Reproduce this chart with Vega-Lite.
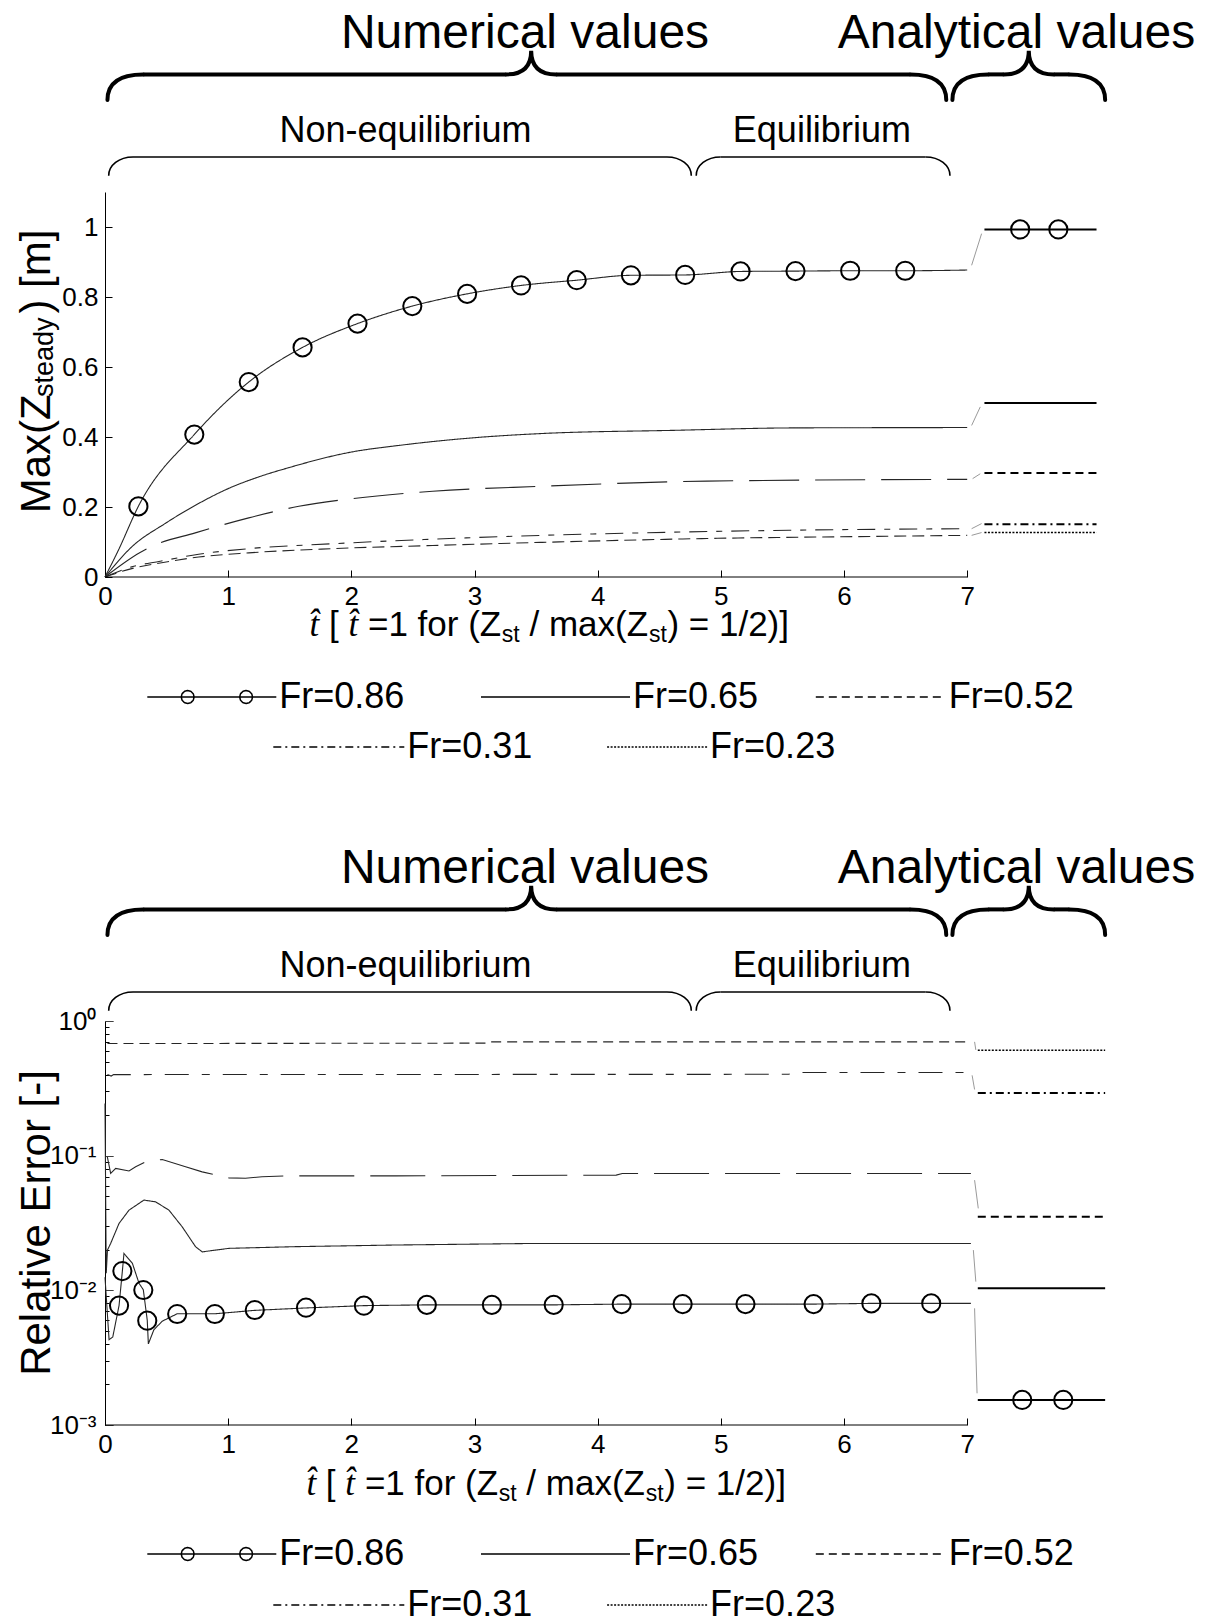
{
  "$schema": "https://vega.github.io/schema/vega-lite/v6.json",
  "background": "white",
  "padding": {"left": 15, "top": 0, "right": 0, "bottom": 0},
  "autosize": {"type": "pad"},
  "bounds": "flush",
  "spacing": 0,
  "config": {
    "view": {"stroke": null},
    "font": "Liberation Sans",
    "axis": {"labelFont": "Liberation Sans", "labelFontSize": 26, "labelColor": "black", "tickColor": "black", "domainColor": "black", "tickWidth": 1, "domainWidth": 1, "grid": false, "labelOverlap": false, "labelFlush": false},
    "text": {"font": "Liberation Sans", "color": "black"},
    "legend": {"orient": "none", "direction": "horizontal", "symbolType": "stroke", "symbolSize": 16900, "symbolStrokeWidth": 1.5, "symbolStrokeColor": "black", "symbolFillColor": "transparent", "labelFont": "Liberation Sans", "labelFontSize": 36, "labelColor": "black", "labelOffset": 2, "labelLimit": 400, "columnPadding": 73, "padding": 0}
  },
  "resolve": {"scale": {"x": "independent", "y": "independent", "strokeDash": "independent"}, "legend": {"strokeDash": "independent"}},
  "datasets": {
    "regions": [
      {"region": "Numerical values", "tier": "outer", "start": 0.02, "end": 6.83, "tip": 3.46, "labelAt": 3.41},
      {"region": "Analytical values", "tier": "outer", "start": 6.88, "end": 8.12, "tip": 7.5, "labelAt": 7.4},
      {"region": "Non-equilibrium", "tier": "inner", "start": 0.03, "end": 4.76, "labelAt": 2.44},
      {"region": "Equilibrium", "tier": "inner", "start": 4.8, "end": 6.86, "labelAt": 5.82}
    ],
    "maxz_numerical": [
      {"series": "Fr=0.86", "t": 0, "z": 0}, {"series": "Fr=0.86", "t": 0.108, "z": 0.076}, {"series": "Fr=0.86", "t": 0.271, "z": 0.202}, {"series": "Fr=0.86", "t": 0.725, "z": 0.407}, {"series": "Fr=0.86", "t": 1.167, "z": 0.557}, {"series": "Fr=0.86", "t": 1.604, "z": 0.656}, {"series": "Fr=0.86", "t": 2.05, "z": 0.724}, {"series": "Fr=0.86", "t": 2.495, "z": 0.774}, {"series": "Fr=0.86", "t": 2.94, "z": 0.809}, {"series": "Fr=0.86", "t": 3.378, "z": 0.833}, {"series": "Fr=0.86", "t": 3.83, "z": 0.848}, {"series": "Fr=0.86", "t": 4.27, "z": 0.862}, {"series": "Fr=0.86", "t": 4.71, "z": 0.863}, {"series": "Fr=0.86", "t": 5.16, "z": 0.873}, {"series": "Fr=0.86", "t": 5.606, "z": 0.874}, {"series": "Fr=0.86", "t": 6.05, "z": 0.875}, {"series": "Fr=0.86", "t": 6.497, "z": 0.875}, {"series": "Fr=0.86", "t": 7.0, "z": 0.877},
      {"series": "Fr=0.65", "t": 0, "z": 0}, {"series": "Fr=0.65", "t": 0.217, "z": 0.086}, {"series": "Fr=0.65", "t": 0.489, "z": 0.153}, {"series": "Fr=0.65", "t": 0.76, "z": 0.21}, {"series": "Fr=0.65", "t": 1.0, "z": 0.2525}, {"series": "Fr=0.65", "t": 1.248, "z": 0.286}, {"series": "Fr=0.65", "t": 1.493, "z": 0.3125}, {"series": "Fr=0.65", "t": 2.0, "z": 0.357}, {"series": "Fr=0.65", "t": 2.388, "z": 0.376}, {"series": "Fr=0.65", "t": 3.0, "z": 0.398}, {"series": "Fr=0.65", "t": 3.55, "z": 0.41}, {"series": "Fr=0.65", "t": 4.614, "z": 0.419}, {"series": "Fr=0.65", "t": 5.59, "z": 0.426}, {"series": "Fr=0.65", "t": 7.0, "z": 0.427},
      {"series": "Fr=0.52", "t": 0, "z": 0}, {"series": "Fr=0.52", "t": 0.285, "z": 0.07}, {"series": "Fr=0.52", "t": 0.39, "z": 0.089}, {"series": "Fr=0.52", "t": 0.733, "z": 0.126}, {"series": "Fr=0.52", "t": 1.167, "z": 0.169}, {"series": "Fr=0.52", "t": 1.574, "z": 0.202}, {"series": "Fr=0.52", "t": 2.008, "z": 0.224}, {"series": "Fr=0.52", "t": 2.66, "z": 0.245}, {"series": "Fr=0.52", "t": 3.53, "z": 0.259}, {"series": "Fr=0.52", "t": 4.886, "z": 0.274}, {"series": "Fr=0.52", "t": 7.0, "z": 0.279},
      {"series": "Fr=0.31", "t": 0, "z": 0}, {"series": "Fr=0.31", "t": 0.217, "z": 0.029}, {"series": "Fr=0.31", "t": 0.448, "z": 0.045}, {"series": "Fr=0.31", "t": 0.76, "z": 0.065}, {"series": "Fr=0.31", "t": 1.167, "z": 0.081}, {"series": "Fr=0.31", "t": 1.845, "z": 0.095}, {"series": "Fr=0.31", "t": 2.66, "z": 0.108}, {"series": "Fr=0.31", "t": 3.55, "z": 0.119}, {"series": "Fr=0.31", "t": 4.343, "z": 0.126}, {"series": "Fr=0.31", "t": 5.428, "z": 0.133}, {"series": "Fr=0.31", "t": 7.0, "z": 0.138},
      {"series": "Fr=0.23", "t": 0, "z": 0}, {"series": "Fr=0.23", "t": 0.217, "z": 0.024}, {"series": "Fr=0.23", "t": 0.448, "z": 0.04}, {"series": "Fr=0.23", "t": 0.76, "z": 0.057}, {"series": "Fr=0.23", "t": 1.167, "z": 0.069}, {"series": "Fr=0.23", "t": 1.845, "z": 0.081}, {"series": "Fr=0.23", "t": 2.66, "z": 0.09}, {"series": "Fr=0.23", "t": 3.55, "z": 0.099}, {"series": "Fr=0.23", "t": 4.886, "z": 0.11}, {"series": "Fr=0.23", "t": 6.243, "z": 0.116}, {"series": "Fr=0.23", "t": 7.0, "z": 0.119}
    ],
    "maxz_analytical": [
      {"series": "Fr=0.86", "t": 7.14, "z": 0.993}, {"series": "Fr=0.86", "t": 8.05, "z": 0.993},
      {"series": "Fr=0.65", "t": 7.14, "z": 0.497}, {"series": "Fr=0.65", "t": 8.05, "z": 0.497},
      {"series": "Fr=0.52", "t": 7.14, "z": 0.297}, {"series": "Fr=0.52", "t": 8.05, "z": 0.297},
      {"series": "Fr=0.31", "t": 7.14, "z": 0.1506}, {"series": "Fr=0.31", "t": 8.05, "z": 0.1506},
      {"series": "Fr=0.23", "t": 7.14, "z": 0.127}, {"series": "Fr=0.23", "t": 8.05, "z": 0.127}
    ],
    "maxz_link": [
      {"series": "Fr=0.86", "t": 7.036, "z": 0.8906}, {"series": "Fr=0.86", "t": 7.117, "z": 0.981},
      {"series": "Fr=0.65", "t": 7.036, "z": 0.433}, {"series": "Fr=0.65", "t": 7.106, "z": 0.486},
      {"series": "Fr=0.52", "t": 7.044, "z": 0.281}, {"series": "Fr=0.52", "t": 7.106, "z": 0.295},
      {"series": "Fr=0.31", "t": 7.036, "z": 0.138}, {"series": "Fr=0.31", "t": 7.117, "z": 0.1526},
      {"series": "Fr=0.23", "t": 7.036, "z": 0.119}, {"series": "Fr=0.23", "t": 7.117, "z": 0.127}
    ],
    "maxz_markers": [
      {"t": 0.271, "z": 0.202}, {"t": 0.725, "z": 0.407}, {"t": 1.167, "z": 0.557}, {"t": 1.604, "z": 0.656}, {"t": 2.05, "z": 0.724}, {"t": 2.495, "z": 0.774}, {"t": 2.94, "z": 0.809}, {"t": 3.378, "z": 0.833}, {"t": 3.83, "z": 0.848}, {"t": 4.27, "z": 0.862}, {"t": 4.71, "z": 0.863}, {"t": 5.16, "z": 0.873}, {"t": 5.606, "z": 0.874}, {"t": 6.05, "z": 0.875}, {"t": 6.497, "z": 0.875},
      {"t": 7.43, "z": 0.993}, {"t": 7.74, "z": 0.993}
    ],
    "err_numerical": [
      {"series": "Fr=0.86", "t": 0, "e": 0.0125}, {"series": "Fr=0.86", "t": 0.033, "e": 0.0043}, {"series": "Fr=0.86", "t": 0.063, "e": 0.0045}, {"series": "Fr=0.86", "t": 0.114, "e": 0.0077}, {"series": "Fr=0.86", "t": 0.141, "e": 0.0139}, {"series": "Fr=0.86", "t": 0.154, "e": 0.0188}, {"series": "Fr=0.86", "t": 0.222, "e": 0.0159}, {"series": "Fr=0.86", "t": 0.276, "e": 0.0113}, {"series": "Fr=0.86", "t": 0.311, "e": 0.0101}, {"series": "Fr=0.86", "t": 0.343, "e": 0.006}, {"series": "Fr=0.86", "t": 0.352, "e": 0.004}, {"series": "Fr=0.86", "t": 0.397, "e": 0.0051}, {"series": "Fr=0.86", "t": 0.465, "e": 0.0059}, {"series": "Fr=0.86", "t": 0.586, "e": 0.0067}, {"series": "Fr=0.86", "t": 0.892, "e": 0.0067}, {"series": "Fr=0.86", "t": 1.216, "e": 0.0071}, {"series": "Fr=0.86", "t": 1.632, "e": 0.0074}, {"series": "Fr=0.86", "t": 2.102, "e": 0.0077}, {"series": "Fr=0.86", "t": 2.613, "e": 0.0078}, {"series": "Fr=0.86", "t": 3.643, "e": 0.0078}, {"series": "Fr=0.86", "t": 4.195, "e": 0.0079}, {"series": "Fr=0.86", "t": 5.753, "e": 0.0079}, {"series": "Fr=0.86", "t": 6.222, "e": 0.008}, {"series": "Fr=0.86", "t": 7.03, "e": 0.008},
      {"series": "Fr=0.65", "t": 0, "e": 0.244}, {"series": "Fr=0.65", "t": 0.01, "e": 0.0134}, {"series": "Fr=0.65", "t": 0.02, "e": 0.0199}, {"series": "Fr=0.65", "t": 0.046, "e": 0.0223}, {"series": "Fr=0.65", "t": 0.114, "e": 0.0314}, {"series": "Fr=0.65", "t": 0.195, "e": 0.0394}, {"series": "Fr=0.65", "t": 0.316, "e": 0.0468}, {"series": "Fr=0.65", "t": 0.411, "e": 0.0454}, {"series": "Fr=0.65", "t": 0.519, "e": 0.0394}, {"series": "Fr=0.65", "t": 0.627, "e": 0.0296}, {"series": "Fr=0.65", "t": 0.735, "e": 0.0211}, {"series": "Fr=0.65", "t": 0.789, "e": 0.0193}, {"series": "Fr=0.65", "t": 1.005, "e": 0.0205}, {"series": "Fr=0.65", "t": 1.545, "e": 0.0211}, {"series": "Fr=0.65", "t": 2.356, "e": 0.0217}, {"series": "Fr=0.65", "t": 3.5, "e": 0.0223}, {"series": "Fr=0.65", "t": 7.03, "e": 0.0223},
      {"series": "Fr=0.52", "t": 0.019, "e": 0.098}, {"series": "Fr=0.52", "t": 0.046, "e": 0.0738}, {"series": "Fr=0.52", "t": 0.087, "e": 0.0804}, {"series": "Fr=0.52", "t": 0.195, "e": 0.077}, {"series": "Fr=0.52", "t": 0.249, "e": 0.0826}, {"series": "Fr=0.52", "t": 0.33, "e": 0.09}, {"series": "Fr=0.52", "t": 0.465, "e": 0.0937}, {"series": "Fr=0.52", "t": 0.654, "e": 0.0826}, {"series": "Fr=0.52", "t": 0.789, "e": 0.0758}, {"series": "Fr=0.52", "t": 1.005, "e": 0.0684}, {"series": "Fr=0.52", "t": 1.14, "e": 0.068}, {"series": "Fr=0.52", "t": 1.275, "e": 0.0697}, {"series": "Fr=0.52", "t": 1.464, "e": 0.0708}, {"series": "Fr=0.52", "t": 2.356, "e": 0.0708}, {"series": "Fr=0.52", "t": 4.15, "e": 0.0717}, {"series": "Fr=0.52", "t": 4.2, "e": 0.0738}, {"series": "Fr=0.52", "t": 7.03, "e": 0.0738},
      {"series": "Fr=0.31", "t": 0.02, "e": 0.4}, {"series": "Fr=0.31", "t": 0.05, "e": 0.39}, {"series": "Fr=0.31", "t": 0.07, "e": 0.4}, {"series": "Fr=0.31", "t": 5.55, "e": 0.402}, {"series": "Fr=0.31", "t": 5.6, "e": 0.415}, {"series": "Fr=0.31", "t": 7.03, "e": 0.415},
      {"series": "Fr=0.23", "t": 0.02, "e": 0.68}, {"series": "Fr=0.23", "t": 3.1, "e": 0.685}, {"series": "Fr=0.23", "t": 3.12, "e": 0.7}, {"series": "Fr=0.23", "t": 7.03, "e": 0.7}
    ],
    "err_analytical": [
      {"series": "Fr=0.86", "t": 7.086, "e": 0.001535}, {"series": "Fr=0.86", "t": 8.12, "e": 0.001535},
      {"series": "Fr=0.65", "t": 7.086, "e": 0.01035}, {"series": "Fr=0.65", "t": 8.12, "e": 0.01035},
      {"series": "Fr=0.52", "t": 7.086, "e": 0.0352}, {"series": "Fr=0.52", "t": 8.12, "e": 0.0352},
      {"series": "Fr=0.31", "t": 7.086, "e": 0.292}, {"series": "Fr=0.31", "t": 8.12, "e": 0.292},
      {"series": "Fr=0.23", "t": 7.086, "e": 0.606}, {"series": "Fr=0.23", "t": 8.12, "e": 0.606}
    ],
    "err_link": [
      {"series": "Fr=0.86", "t": 7.06, "e": 0.00735}, {"series": "Fr=0.86", "t": 7.08, "e": 0.00172},
      {"series": "Fr=0.65", "t": 7.05, "e": 0.0199}, {"series": "Fr=0.65", "t": 7.07, "e": 0.0116},
      {"series": "Fr=0.52", "t": 7.06, "e": 0.0658}, {"series": "Fr=0.52", "t": 7.09, "e": 0.0406},
      {"series": "Fr=0.31", "t": 7.04, "e": 0.395}, {"series": "Fr=0.31", "t": 7.06, "e": 0.31},
      {"series": "Fr=0.23", "t": 7.06, "e": 0.7}, {"series": "Fr=0.23", "t": 7.07, "e": 0.61}
    ],
    "err_markers": [
      {"t": 0.114, "e": 0.0077}, {"t": 0.141, "e": 0.0139}, {"t": 0.311, "e": 0.01005}, {"t": 0.343, "e": 0.00595}, {"t": 0.586, "e": 0.00667}, {"t": 0.892, "e": 0.00667}, {"t": 1.216, "e": 0.00714}, {"t": 1.632, "e": 0.00743}, {"t": 2.102, "e": 0.00769}, {"t": 2.613, "e": 0.0078}, {"t": 3.141, "e": 0.0078}, {"t": 3.643, "e": 0.0078}, {"t": 4.195, "e": 0.0079}, {"t": 4.69, "e": 0.0079}, {"t": 5.2, "e": 0.0079}, {"t": 5.753, "e": 0.0079}, {"t": 6.222, "e": 0.008}, {"t": 6.708, "e": 0.008},
      {"t": 7.447, "e": 0.001535}, {"t": 7.78, "e": 0.001535}
    ]
  },
  "vconcat": [
    {
      "width": 1010, "height": 192,
      "data": {"name": "regions"},
      "layer": [
        {"transform": [{"filter": "datum.tier === 'outer'"}],
         "mark": {"type": "text", "fontSize": 48, "align": "center", "baseline": "alphabetic"},
         "encoding": {"x": {"field": "labelAt", "type": "quantitative", "scale": {"domain": [0, 8.2], "nice": false}, "axis": null},
                      "y": {"datum": 0.7526, "type": "quantitative", "scale": {"domain": [0, 1], "nice": false}, "axis": null},
                      "text": {"field": "region"}}},
        {"transform": [{"filter": "datum.tier === 'inner'"}],
         "mark": {"type": "text", "fontSize": 36, "align": "center", "baseline": "alphabetic"},
         "encoding": {"x": {"field": "labelAt", "type": "quantitative", "axis": null}, "y": {"datum": 0.2625, "type": "quantitative", "axis": null}, "text": {"field": "region"}}},
        {"transform": [{"filter": "datum.tier === 'outer'"}],
         "mark": {"type": "rule", "strokeWidth": 4, "color": "black", "xOffset": 35.8, "x2Offset": -25},
         "encoding": {"x": {"field": "start", "type": "quantitative", "axis": null}, "x2": {"field": "tip"}, "y": {"datum": 0.6125, "type": "quantitative", "axis": null}}},
        {"transform": [{"filter": "datum.tier === 'outer'"}],
         "mark": {"type": "rule", "strokeWidth": 4, "color": "black", "xOffset": 25, "x2Offset": -35.8},
         "encoding": {"x": {"field": "tip", "type": "quantitative", "axis": null}, "x2": {"field": "end"}, "y": {"datum": 0.6125, "type": "quantitative", "axis": null}}},
        {"transform": [{"filter": "datum.tier === 'outer'"}],
         "mark": {"type": "point", "shape": "M0,1C0,0.35 0.45,0 1.4,0", "size": 2621, "filled": false, "strokeWidth": 4, "color": "black", "opacity": 1, "strokeCap": "round"},
         "encoding": {"x": {"field": "start", "type": "quantitative", "axis": null}, "y": {"datum": 0.6125, "type": "quantitative", "axis": null}}},
        {"transform": [{"filter": "datum.tier === 'outer'"}],
         "mark": {"type": "point", "shape": "M0,1C0,0.35 -0.45,0 -1.4,0", "size": 2621, "filled": false, "strokeWidth": 4, "color": "black", "opacity": 1, "strokeCap": "round"},
         "encoding": {"x": {"field": "end", "type": "quantitative", "axis": null}, "y": {"datum": 0.6125, "type": "quantitative", "axis": null}}},
        {"transform": [{"filter": "datum.tier === 'outer'"}],
         "mark": {"type": "point", "shape": "M-1,0C-0.3,0 0,-0.35 0,-0.95C0,-0.35 0.3,0 1,0", "size": 2500, "filled": false, "strokeWidth": 4, "color": "black", "opacity": 1, "strokeCap": "round"},
         "encoding": {"x": {"field": "tip", "type": "quantitative", "axis": null}, "y": {"datum": 0.6125, "type": "quantitative", "axis": null}}},
        {"transform": [{"filter": "datum.tier === 'inner'"}],
         "mark": {"type": "rule", "strokeWidth": 1.6, "color": "black", "xOffset": 24.3, "x2Offset": -24.3},
         "encoding": {"x": {"field": "start", "type": "quantitative", "axis": null}, "x2": {"field": "end"}, "y": {"datum": 0.1823, "type": "quantitative", "axis": null}}},
        {"transform": [{"filter": "datum.tier === 'inner'"}],
         "mark": {"type": "point", "shape": "M0,1C0,0.45 0.55,0 1.3,0", "size": 1399, "filled": false, "strokeWidth": 1.6, "color": "black", "opacity": 1},
         "encoding": {"x": {"field": "start", "type": "quantitative", "axis": null}, "y": {"datum": 0.1823, "type": "quantitative", "axis": null}}},
        {"transform": [{"filter": "datum.tier === 'inner'"}],
         "mark": {"type": "point", "shape": "M0,1C0,0.45 -0.55,0 -1.3,0", "size": 1399, "filled": false, "strokeWidth": 1.6, "color": "black", "opacity": 1},
         "encoding": {"x": {"field": "end", "type": "quantitative", "axis": null}, "y": {"datum": 0.1823, "type": "quantitative", "axis": null}}}
      ]
    },
    {
      "width": 1010, "height": 385,
      "resolve": {"scale": {"strokeDash": "independent"}, "legend": {"strokeDash": "independent"}},
      "layer": [
        {"data": {"name": "maxz_numerical"},
         "mark": {"type": "line", "color": "#262626", "strokeWidth": 1.1, "interpolate": "monotone"},
         "encoding": {
           "x": {"field": "t", "type": "quantitative", "scale": {"domain": [0, 8.2], "nice": false},
                 "axis": {"values": [0, 1, 2, 3, 4, 5, 6, 7], "format": "d", "title": null, "domain": false, "tickSize": -7, "labelPadding": 13, "labelFontSize": 26}},
           "y": {"field": "z", "type": "quantitative", "scale": {"domain": [0, 1.1], "nice": false},
                 "axis": {"values": [0, 0.2, 0.4, 0.6, 0.8, 1], "format": "~g", "title": null, "tickSize": -7, "labelPadding": 14, "labelFontSize": 26}},
           "strokeDash": {"field": "series", "type": "nominal",
                          "scale": {"domain": ["Fr=0.86", "Fr=0.65", "Fr=0.52", "Fr=0.31", "Fr=0.23"], "range": [[1, 0], [1, 0], [50, 16], [18, 9, 6, 9], [12, 6]]},
                          "legend": null}}},
        {"data": {"name": "maxz_link"},
         "mark": {"type": "line", "color": "#9a9a9a", "strokeWidth": 1},
         "encoding": {"x": {"field": "t", "type": "quantitative"}, "y": {"field": "z", "type": "quantitative"}, "detail": {"field": "series"}}},
        {"data": {"name": "maxz_analytical"},
         "transform": [{"filter": "datum.series === 'Fr=0.86'"}],
         "mark": {"type": "line", "color": "black", "strokeWidth": 2},
         "encoding": {"x": {"field": "t", "type": "quantitative"}, "y": {"field": "z", "type": "quantitative"},
           "strokeDash": {"field": "series", "type": "nominal", "scale": {"domain": ["Fr=0.86"], "range": [[1, 0]]},
                          "legend": {"legendX": 41.3, "legendY": 439.5, "symbolSize": 16641, "title": null,
                                     "encode": {"symbols": {"update": {"shape": {"value": "M-1,0L1,0M-0.274,0L-0.287,0.05L-0.324,0.087L-0.374,0.1L-0.424,0.087L-0.461,0.05L-0.474,0L-0.461,-0.05L-0.424,-0.087L-0.374,-0.1L-0.324,-0.087L-0.287,-0.05ZM0.632,0L0.619,0.05L0.582,0.087L0.532,0.1L0.482,0.087L0.445,0.05L0.432,0L0.445,-0.05L0.482,-0.087L0.532,-0.1L0.582,-0.087L0.619,-0.05Z"}}}}}}}},
        {"data": {"name": "maxz_analytical"},
         "transform": [{"filter": "datum.series === 'Fr=0.65'"}],
         "mark": {"type": "line", "color": "black", "strokeWidth": 2},
         "encoding": {"x": {"field": "t", "type": "quantitative"}, "y": {"field": "z", "type": "quantitative"},
           "strokeDash": {"field": "series", "type": "nominal", "scale": {"domain": ["Fr=0.65"], "range": [[1, 0]]},
                          "legend": {"legendX": 375, "legendY": 429.5, "symbolSize": 22201, "title": null}}}},
        {"data": {"name": "maxz_analytical"},
         "transform": [{"filter": "datum.series === 'Fr=0.52'"}],
         "mark": {"type": "line", "color": "black", "strokeWidth": 2},
         "encoding": {"x": {"field": "t", "type": "quantitative"}, "y": {"field": "z", "type": "quantitative"},
           "strokeDash": {"field": "series", "type": "nominal", "scale": {"domain": ["Fr=0.52"], "range": [[8, 5]]},
                          "legend": {"legendX": 709.8, "legendY": 439, "symbolSize": 16900, "title": null}}}},
        {"data": {"name": "maxz_analytical"},
         "transform": [{"filter": "datum.series === 'Fr=0.31'"}],
         "mark": {"type": "line", "color": "black", "strokeWidth": 2},
         "encoding": {"x": {"field": "t", "type": "quantitative"}, "y": {"field": "z", "type": "quantitative"},
           "strokeDash": {"field": "series", "type": "nominal", "scale": {"domain": ["Fr=0.31"], "range": [[8, 4, 2, 4]]},
                          "legend": {"legendX": 167.3, "legendY": 488.5, "symbolSize": 17161, "title": null}}}},
        {"data": {"name": "maxz_analytical"},
         "transform": [{"filter": "datum.series === 'Fr=0.23'"}],
         "mark": {"type": "line", "color": "black", "strokeWidth": 1.5},
         "encoding": {"x": {"field": "t", "type": "quantitative"}, "y": {"field": "z", "type": "quantitative"},
           "strokeDash": {"field": "series", "type": "nominal", "scale": {"domain": ["Fr=0.23"], "range": [[2, 1.5]]},
                          "legend": {"legendX": 501.1, "legendY": 504, "symbolSize": 10000, "title": null}}}},
        {"data": {"name": "maxz_markers"},
         "mark": {"type": "point", "shape": "circle", "size": 330, "filled": false, "strokeWidth": 2, "color": "black", "opacity": 1},
         "encoding": {"x": {"field": "t", "type": "quantitative"}, "y": {"field": "z", "type": "quantitative"}}},
        {"data": {"values": [{"from": 0, "to": 7}]},
         "mark": {"type": "rule", "color": "black", "strokeWidth": 1},
         "encoding": {"x": {"field": "from", "type": "quantitative"}, "x2": {"field": "to"}, "y": {"datum": 0, "type": "quantitative"}}},
        {"data": {"values": [{"text": "Max(Z"}]},
         "mark": {"type": "text", "angle": 270, "align": "left", "baseline": "alphabetic", "fontSize": 42},
         "encoding": {"x": {"datum": -0.4505, "type": "quantitative"}, "y": {"datum": 0.182, "type": "quantitative"}, "text": {"field": "text"}}},
        {"data": {"values": [{"text": "steady"}]},
         "mark": {"type": "text", "angle": 270, "align": "left", "baseline": "alphabetic", "fontSize": 27},
         "encoding": {"x": {"datum": -0.422, "type": "quantitative"}, "y": {"datum": 0.514, "type": "quantitative"}, "text": {"field": "text"}}},
        {"data": {"values": [{"text": ") [m]"}]},
         "mark": {"type": "text", "angle": 270, "align": "left", "baseline": "alphabetic", "fontSize": 42},
         "encoding": {"x": {"datum": -0.4505, "type": "quantitative"}, "y": {"datum": 0.7526, "type": "quantitative"}, "text": {"field": "text"}}},
        {"data": {"values": [{"text": "t\u0302"}]},
         "mark": {"type": "text", "font": "Liberation Serif", "fontStyle": "italic", "fontSize": 35, "align": "left", "baseline": "alphabetic"},
         "encoding": {"x": {"datum": 1.66, "type": "quantitative"}, "y": {"datum": -0.1694, "type": "quantitative"}, "text": {"field": "text"}}},
        {"data": {"values": [{"text": "["}]},
         "mark": {"type": "text", "fontSize": 35, "align": "left", "baseline": "alphabetic"},
         "encoding": {"x": {"datum": 1.818, "type": "quantitative"}, "y": {"datum": -0.1694, "type": "quantitative"}, "text": {"field": "text"}}},
        {"data": {"values": [{"text": "t\u0302"}]},
         "mark": {"type": "text", "font": "Liberation Serif", "fontStyle": "italic", "fontSize": 35, "align": "left", "baseline": "alphabetic"},
         "encoding": {"x": {"datum": 1.976, "type": "quantitative"}, "y": {"datum": -0.1694, "type": "quantitative"}, "text": {"field": "text"}}},
        {"data": {"values": [{"text": "=1 for (Z"}]},
         "mark": {"type": "text", "fontSize": 35, "align": "left", "baseline": "alphabetic"},
         "encoding": {"x": {"datum": 2.135, "type": "quantitative"}, "y": {"datum": -0.1694, "type": "quantitative"}, "text": {"field": "text"}}},
        {"data": {"values": [{"text": "st"}]},
         "mark": {"type": "text", "fontSize": 23, "align": "left", "baseline": "alphabetic"},
         "encoding": {"x": {"datum": 3.222, "type": "quantitative"}, "y": {"datum": -0.1866, "type": "quantitative"}, "text": {"field": "text"}}},
        {"data": {"values": [{"text": "/ max(Z"}]},
         "mark": {"type": "text", "fontSize": 35, "align": "left", "baseline": "alphabetic"},
         "encoding": {"x": {"datum": 3.446, "type": "quantitative"}, "y": {"datum": -0.1694, "type": "quantitative"}, "text": {"field": "text"}}},
        {"data": {"values": [{"text": "st"}]},
         "mark": {"type": "text", "fontSize": 23, "align": "left", "baseline": "alphabetic"},
         "encoding": {"x": {"datum": 4.416, "type": "quantitative"}, "y": {"datum": -0.1866, "type": "quantitative"}, "text": {"field": "text"}}},
        {"data": {"values": [{"text": ") = 1/2)]"}]},
         "mark": {"type": "text", "fontSize": 35, "align": "left", "baseline": "alphabetic"},
         "encoding": {"x": {"datum": 4.566, "type": "quantitative"}, "y": {"datum": -0.1694, "type": "quantitative"}, "text": {"field": "text"}}}
      ]
    },
    {
      "width": 1010, "height": 444,
      "data": {"name": "regions"},
      "layer": [
        {"transform": [{"filter": "datum.tier === 'outer'"}],
         "mark": {"type": "text", "fontSize": 48, "align": "center", "baseline": "alphabetic"},
         "encoding": {"x": {"field": "labelAt", "type": "quantitative", "scale": {"domain": [0, 8.2], "nice": false}, "axis": null},
                      "y": {"datum": 0.7526, "type": "quantitative", "scale": {"domain": [0.03125, 2.34375], "nice": false, "zero": false}, "axis": null},
                      "text": {"field": "region"}}},
        {"transform": [{"filter": "datum.tier === 'inner'"}],
         "mark": {"type": "text", "fontSize": 36, "align": "center", "baseline": "alphabetic"},
         "encoding": {"x": {"field": "labelAt", "type": "quantitative", "axis": null}, "y": {"datum": 0.2625, "type": "quantitative", "axis": null}, "text": {"field": "region"}}},
        {"transform": [{"filter": "datum.tier === 'outer'"}],
         "mark": {"type": "rule", "strokeWidth": 4, "color": "black", "xOffset": 35.8, "x2Offset": -25},
         "encoding": {"x": {"field": "start", "type": "quantitative", "axis": null}, "x2": {"field": "tip"}, "y": {"datum": 0.6125, "type": "quantitative", "axis": null}}},
        {"transform": [{"filter": "datum.tier === 'outer'"}],
         "mark": {"type": "rule", "strokeWidth": 4, "color": "black", "xOffset": 25, "x2Offset": -35.8},
         "encoding": {"x": {"field": "tip", "type": "quantitative", "axis": null}, "x2": {"field": "end"}, "y": {"datum": 0.6125, "type": "quantitative", "axis": null}}},
        {"transform": [{"filter": "datum.tier === 'outer'"}],
         "mark": {"type": "point", "shape": "M0,1C0,0.35 0.45,0 1.4,0", "size": 2621, "filled": false, "strokeWidth": 4, "color": "black", "opacity": 1, "strokeCap": "round"},
         "encoding": {"x": {"field": "start", "type": "quantitative", "axis": null}, "y": {"datum": 0.6125, "type": "quantitative", "axis": null}}},
        {"transform": [{"filter": "datum.tier === 'outer'"}],
         "mark": {"type": "point", "shape": "M0,1C0,0.35 -0.45,0 -1.4,0", "size": 2621, "filled": false, "strokeWidth": 4, "color": "black", "opacity": 1, "strokeCap": "round"},
         "encoding": {"x": {"field": "end", "type": "quantitative", "axis": null}, "y": {"datum": 0.6125, "type": "quantitative", "axis": null}}},
        {"transform": [{"filter": "datum.tier === 'outer'"}],
         "mark": {"type": "point", "shape": "M-1,0C-0.3,0 0,-0.35 0,-0.95C0,-0.35 0.3,0 1,0", "size": 2500, "filled": false, "strokeWidth": 4, "color": "black", "opacity": 1, "strokeCap": "round"},
         "encoding": {"x": {"field": "tip", "type": "quantitative", "axis": null}, "y": {"datum": 0.6125, "type": "quantitative", "axis": null}}},
        {"transform": [{"filter": "datum.tier === 'inner'"}],
         "mark": {"type": "rule", "strokeWidth": 1.6, "color": "black", "xOffset": 24.3, "x2Offset": -24.3},
         "encoding": {"x": {"field": "start", "type": "quantitative", "axis": null}, "x2": {"field": "end"}, "y": {"datum": 0.1823, "type": "quantitative", "axis": null}}},
        {"transform": [{"filter": "datum.tier === 'inner'"}],
         "mark": {"type": "point", "shape": "M0,1C0,0.45 0.55,0 1.3,0", "size": 1399, "filled": false, "strokeWidth": 1.6, "color": "black", "opacity": 1},
         "encoding": {"x": {"field": "start", "type": "quantitative", "axis": null}, "y": {"datum": 0.1823, "type": "quantitative", "axis": null}}},
        {"transform": [{"filter": "datum.tier === 'inner'"}],
         "mark": {"type": "point", "shape": "M0,1C0,0.45 -0.55,0 -1.3,0", "size": 1399, "filled": false, "strokeWidth": 1.6, "color": "black", "opacity": 1},
         "encoding": {"x": {"field": "end", "type": "quantitative", "axis": null}, "y": {"datum": 0.1823, "type": "quantitative", "axis": null}}}
      ]
    },
    {
      "width": 1010, "height": 404,
      "resolve": {"scale": {"strokeDash": "independent"}, "legend": {"strokeDash": "independent"}},
      "layer": [
        {"data": {"name": "err_numerical"},
         "mark": {"type": "line", "color": "#262626", "strokeWidth": 1.1},
         "encoding": {
           "x": {"field": "t", "type": "quantitative", "scale": {"domain": [0, 8.2], "nice": false},
                 "axis": {"values": [0, 1, 2, 3, 4, 5, 6, 7], "format": "d", "title": null, "domain": false, "tickSize": -7, "labelPadding": 13, "labelFontSize": 26}},
           "y": {"field": "e", "type": "quantitative", "scale": {"type": "log", "domain": [0.001, 1], "nice": false},
                 "axis": {"values": [0.001, 0.002, 0.003, 0.004, 0.005, 0.006, 0.007, 0.008, 0.009, 0.01, 0.02, 0.03, 0.04, 0.05, 0.06, 0.07, 0.08, 0.09, 0.1, 0.2, 0.3, 0.4, 0.5, 0.6, 0.7, 0.8, 0.9, 1],
                          "labelExpr": "datum.value === 1 ? '10\u2070' : datum.value === 0.1 ? '10\u207b\u00b9' : datum.value === 0.01 ? '10\u207b\u00b2' : datum.value === 0.001 ? '10\u207b\u00b3' : ''",
                          "title": null, "tickSize": -8, "labelPadding": 17, "labelFontSize": 26,
                          "tickDash": {"condition": {"test": "datum.value === 1 || datum.value === 0.1 || datum.value === 0.01 || datum.value === 0.001", "value": [1, 0]}, "value": [4, 30]}}},
           "strokeDash": {"field": "series", "type": "nominal",
                          "scale": {"domain": ["Fr=0.86", "Fr=0.65", "Fr=0.52", "Fr=0.31", "Fr=0.23"], "range": [[1, 0], [1, 0], [55, 16], [24, 13, 8, 13], [10, 6]]},
                          "legend": null}}},
        {"data": {"name": "err_link"},
         "mark": {"type": "line", "color": "#9a9a9a", "strokeWidth": 1},
         "encoding": {"x": {"field": "t", "type": "quantitative"}, "y": {"field": "e", "type": "quantitative"}, "detail": {"field": "series"}}},
        {"data": {"name": "err_analytical"},
         "transform": [{"filter": "datum.series === 'Fr=0.86'"}],
         "mark": {"type": "line", "color": "black", "strokeWidth": 2},
         "encoding": {"x": {"field": "t", "type": "quantitative"}, "y": {"field": "e", "type": "quantitative"},
           "strokeDash": {"field": "series", "type": "nominal", "scale": {"domain": ["Fr=0.86"], "range": [[1, 0]]},
                          "legend": {"legendX": 41.3, "legendY": 467.5, "symbolSize": 16641, "title": null,
                                     "encode": {"symbols": {"update": {"shape": {"value": "M-1,0L1,0M-0.274,0L-0.287,0.05L-0.324,0.087L-0.374,0.1L-0.424,0.087L-0.461,0.05L-0.474,0L-0.461,-0.05L-0.424,-0.087L-0.374,-0.1L-0.324,-0.087L-0.287,-0.05ZM0.632,0L0.619,0.05L0.582,0.087L0.532,0.1L0.482,0.087L0.445,0.05L0.432,0L0.445,-0.05L0.482,-0.087L0.532,-0.1L0.582,-0.087L0.619,-0.05Z"}}}}}}}},
        {"data": {"name": "err_analytical"},
         "transform": [{"filter": "datum.series === 'Fr=0.65'"}],
         "mark": {"type": "line", "color": "black", "strokeWidth": 2},
         "encoding": {"x": {"field": "t", "type": "quantitative"}, "y": {"field": "e", "type": "quantitative"},
           "strokeDash": {"field": "series", "type": "nominal", "scale": {"domain": ["Fr=0.65"], "range": [[1, 0]]},
                          "legend": {"legendX": 375, "legendY": 457.5, "symbolSize": 22201, "title": null}}}},
        {"data": {"name": "err_analytical"},
         "transform": [{"filter": "datum.series === 'Fr=0.52'"}],
         "mark": {"type": "line", "color": "black", "strokeWidth": 2},
         "encoding": {"x": {"field": "t", "type": "quantitative"}, "y": {"field": "e", "type": "quantitative"},
           "strokeDash": {"field": "series", "type": "nominal", "scale": {"domain": ["Fr=0.52"], "range": [[8, 5]]},
                          "legend": {"legendX": 709.8, "legendY": 467, "symbolSize": 16900, "title": null}}}},
        {"data": {"name": "err_analytical"},
         "transform": [{"filter": "datum.series === 'Fr=0.31'"}],
         "mark": {"type": "line", "color": "black", "strokeWidth": 2},
         "encoding": {"x": {"field": "t", "type": "quantitative"}, "y": {"field": "e", "type": "quantitative"},
           "strokeDash": {"field": "series", "type": "nominal", "scale": {"domain": ["Fr=0.31"], "range": [[8, 4, 2, 4]]},
                          "legend": {"legendX": 167.3, "legendY": 517.5, "symbolSize": 17161, "title": null}}}},
        {"data": {"name": "err_analytical"},
         "transform": [{"filter": "datum.series === 'Fr=0.23'"}],
         "mark": {"type": "line", "color": "black", "strokeWidth": 1.5},
         "encoding": {"x": {"field": "t", "type": "quantitative"}, "y": {"field": "e", "type": "quantitative"},
           "strokeDash": {"field": "series", "type": "nominal", "scale": {"domain": ["Fr=0.23"], "range": [[2, 1.5]]},
                          "legend": {"legendX": 501.1, "legendY": 533, "symbolSize": 10000, "title": null}}}},
        {"data": {"name": "err_markers"},
         "mark": {"type": "point", "shape": "circle", "size": 330, "filled": false, "strokeWidth": 2, "color": "black", "opacity": 1},
         "encoding": {"x": {"field": "t", "type": "quantitative"}, "y": {"field": "e", "type": "quantitative"}}},
        {"data": {"values": [{"from": 0, "to": 7}]},
         "mark": {"type": "rule", "color": "black", "strokeWidth": 1},
         "encoding": {"x": {"field": "from", "type": "quantitative"}, "x2": {"field": "to"}, "y": {"datum": 0.001, "type": "quantitative"}}},
        {"data": {"values": [{"text": "Relative Error [-]"}]},
         "mark": {"type": "text", "angle": 270, "align": "center", "baseline": "alphabetic", "fontSize": 42},
         "encoding": {"x": {"datum": -0.4505, "type": "quantitative"}, "y": {"datum": 0.03162, "type": "quantitative"}, "text": {"field": "text"}}},
        {"data": {"values": [{"text": "t\u0302"}]},
         "mark": {"type": "text", "font": "Liberation Serif", "fontStyle": "italic", "fontSize": 35, "align": "left", "baseline": "alphabetic"},
         "encoding": {"x": {"datum": 1.635, "type": "quantitative"}, "y": {"datum": 0.000304, "type": "quantitative"}, "text": {"field": "text"}}},
        {"data": {"values": [{"text": "["}]},
         "mark": {"type": "text", "fontSize": 35, "align": "left", "baseline": "alphabetic"},
         "encoding": {"x": {"datum": 1.793, "type": "quantitative"}, "y": {"datum": 0.000304, "type": "quantitative"}, "text": {"field": "text"}}},
        {"data": {"values": [{"text": "t\u0302"}]},
         "mark": {"type": "text", "font": "Liberation Serif", "fontStyle": "italic", "fontSize": 35, "align": "left", "baseline": "alphabetic"},
         "encoding": {"x": {"datum": 1.951, "type": "quantitative"}, "y": {"datum": 0.000304, "type": "quantitative"}, "text": {"field": "text"}}},
        {"data": {"values": [{"text": "=1 for (Z"}]},
         "mark": {"type": "text", "fontSize": 35, "align": "left", "baseline": "alphabetic"},
         "encoding": {"x": {"datum": 2.11, "type": "quantitative"}, "y": {"datum": 0.000304, "type": "quantitative"}, "text": {"field": "text"}}},
        {"data": {"values": [{"text": "st"}]},
         "mark": {"type": "text", "fontSize": 23, "align": "left", "baseline": "alphabetic"},
         "encoding": {"x": {"datum": 3.197, "type": "quantitative"}, "y": {"datum": 0.0002745, "type": "quantitative"}, "text": {"field": "text"}}},
        {"data": {"values": [{"text": "/ max(Z"}]},
         "mark": {"type": "text", "fontSize": 35, "align": "left", "baseline": "alphabetic"},
         "encoding": {"x": {"datum": 3.421, "type": "quantitative"}, "y": {"datum": 0.000304, "type": "quantitative"}, "text": {"field": "text"}}},
        {"data": {"values": [{"text": "st"}]},
         "mark": {"type": "text", "fontSize": 23, "align": "left", "baseline": "alphabetic"},
         "encoding": {"x": {"datum": 4.391, "type": "quantitative"}, "y": {"datum": 0.0002745, "type": "quantitative"}, "text": {"field": "text"}}},
        {"data": {"values": [{"text": ") = 1/2)]"}]},
         "mark": {"type": "text", "fontSize": 35, "align": "left", "baseline": "alphabetic"},
         "encoding": {"x": {"datum": 4.541, "type": "quantitative"}, "y": {"datum": 0.000304, "type": "quantitative"}, "text": {"field": "text"}}}
      ]
    }
  ]
}
